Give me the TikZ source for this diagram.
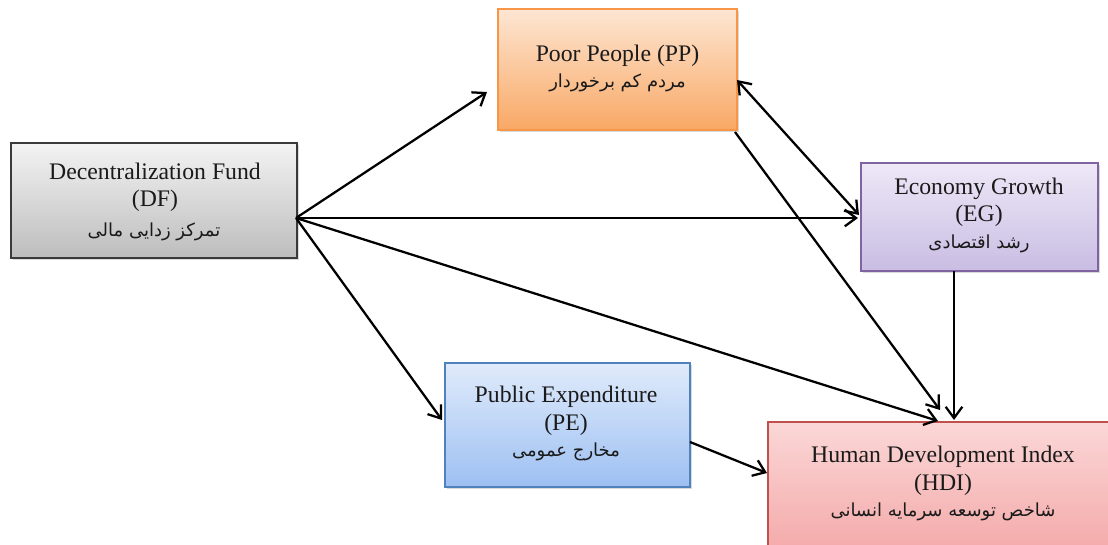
\documentclass[tikz,border=0pt]{standalone}
\usepackage{fontspec}
\setmainfont{Liberation Serif}
\newfontfamily\arabicfont[Script=Arabic]{DejaVu Sans}
\TeXXeTstate=1
\usetikzlibrary{arrows.meta,shadows,calc}
\definecolor{txt}{HTML}{1A1A1A}
\definecolor{dfline}{HTML}{3A3A3A}\definecolor{dftop}{HTML}{F3F3F3}\definecolor{dfbot}{HTML}{BDBDBD}
\definecolor{ppline}{HTML}{F79646}\definecolor{pptop}{HTML}{FDE6D3}\definecolor{ppbot}{HTML}{F9A865}
\definecolor{egline}{HTML}{8064A2}\definecolor{egtop}{HTML}{EEE8F7}\definecolor{egbot}{HTML}{C9BDE3}
\definecolor{peline}{HTML}{4F81BD}\definecolor{petop}{HTML}{E0EBFB}\definecolor{pebot}{HTML}{9DC0F2}
\definecolor{hdline}{HTML}{C0504D}\definecolor{hdtop}{HTML}{FBD7D7}\definecolor{hdbot}{HTML}{F3A3A3}
\begin{document}
\begin{tikzpicture}[x=0.75pt,y=-0.75pt,
  box/.style={draw, line width=1.1pt, inner sep=0pt, outer sep=0pt,
    drop shadow={opacity=0.3, shadow xshift=1.6pt, shadow yshift=-1.8pt}},
  lat/.style={anchor=base, inner sep=0pt, font=\fontsize{17.8}{20}\selectfont, text=txt},
  ar/.style={anchor=base, inner sep=0pt, font=\fontsize{13.5}{16}\selectfont\arabicfont, text=txt},
  arr/.style={line width=1.7pt, -{Straight Barb[length=8.5pt,width=12.5pt]}},
  both/.style={line width=1.7pt, {Straight Barb[length=8.5pt,width=12.5pt]}-{Straight Barb[length=8.5pt,width=12.5pt]}},
]
\useasboundingbox (0,0) rectangle (1108,545);
\begin{scope}
\clip (0,0) rectangle (1108,545);
% boxes
\node[box, draw=dfline, top color=dftop, bottom color=dfbot, minimum width=214.5pt, minimum height=86.25pt] (DF) at (154,200.5) {};
\node[box, draw=ppline, top color=pptop, bottom color=ppbot, minimum width=179.25pt, minimum height=90.75pt] (PP) at (617.5,69.5) {};
\node[box, draw=egline, top color=egtop, bottom color=egbot, minimum width=177.75pt, minimum height=81pt] (EG) at (979.5,217) {};
\node[box, draw=peline, top color=petop, bottom color=pebot, minimum width=183.75pt, minimum height=93pt] (PE) at (567.5,425) {};
\node[box, draw=hdline, top color=hdtop, bottom color=hdbot, minimum width=264pt, minimum height=111pt] (HDI) at (944,496) {};
% texts
\node[lat] (DFa) at (155,180) {Decentralization Fund};
\node[lat] (DFb) at (155,207) {(DF)};
\node[ar]  (DFc) at (154,237) {\beginR تمرکز زدایی مالی\endR};
\node[lat] (PPa) at (617.5,62) {Poor People (PP)};
\node[ar]  (PPc) at (617.5,88) {\beginR مردم کم برخوردار\endR};
\node[lat] (EGa) at (979,195) {Economy Growth};
\node[lat] (EGb) at (979,222) {(EG)};
\node[ar]  (EGc) at (979,249) {\beginR رشد اقتصادی\endR};
\node[lat] (PEa) at (566,403) {Public Expenditure};
\node[lat] (PEb) at (566,431) {(PE)};
\node[ar]  (PEc) at (566,457) {\beginR مخارج عمومی\endR};
\node[lat] (HDa) at (943,463) {Human Development Index};
\node[lat] (HDb) at (943,491) {(HDI)};
\node[ar]  (HDc) at (943,517) {\beginR شاخص توسعه سرمایه انسانی\endR};
% connectors
\coordinate (o) at ($(DF.east)+(-1,17.5)$);
\draw[arr] (o) -- ($(PP.west)+(-11,22.5)$);
\draw[arr] (o) -- ($(EG.west)+(-3,1)$);
\draw[arr] (o) -- ($(PE.west)+(-3,-5)$);
\draw[arr] (o) -- ($(HDI.north)+(-6,-1)$);
\draw[both] ($(PP.east)+(0,10.5)$) -- ($(EG.west)+(-2,-2)$);
\draw[arr] ($(PP.south east)+(-2,2)$) -- ($(HDI.north)+(-4,-12)$);
\draw[arr] ($(EG.south)+(-25.5,0)$) -- ($(HDI.north)+(10,-2)$);
\draw[arr] ($(PE.east)+(0,17)$) -- ($(HDI.west)+(-1,-23)$);
\end{scope}
\end{tikzpicture}
\end{document}
